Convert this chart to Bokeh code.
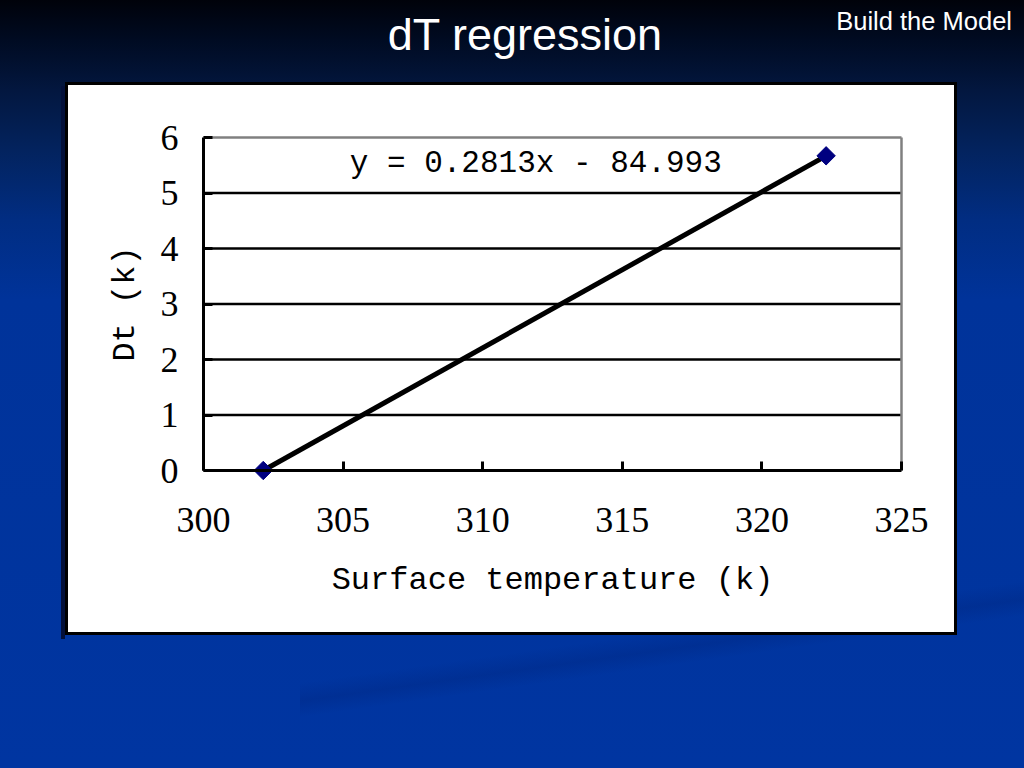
import math
from bokeh.plotting import figure
from bokeh.models import Range1d, FixedTicker, Label, Column, Div
from bokeh.embed import file_html
from bokeh.resources import INLINE

# ---- data ----
surface_temp = [302.14, 322.3]
dt_values = [0.0, 5.67]
x_ticks = [300, 305, 310, 315, 320, 325]
y_ticks = [0, 1, 2, 3, 4, 5, 6]
grid_ticks = [1, 2, 3, 4, 5]
equation = "y = 0.2813x - 84.993"
title_text = "dT regression"
corner_text = "Build the Model"
x_label = "Surface temperature (k)"
y_label = "Dt (k)"

W, H = 1024, 768
HEAD = 72
SERIF = "Liberation Serif"
MONO = "Liberation Mono"

# ---- page background (gradient, streak, white chart box) ----
background = ", ".join([
    "linear-gradient(#ffffff, #ffffff) 68px 85px / 886px 547px no-repeat",
    "linear-gradient(#000000, #000000) 65px 82px / 892px 553px no-repeat",
    "linear-gradient(#03103a, #03103a) 61px 86px / 4px 553px no-repeat",
    "linear-gradient(172deg, rgba(0,0,0,0) 78.5%, rgba(0,25,100,0.2) 80.6%, "
    "rgba(0,0,0,0) 82.5%) 300px 0px / 724px 768px no-repeat",
    "linear-gradient(to bottom, #00020a 0px, #000b22 40px, #03173f 90px, "
    "#03235e 150px, #012d82 220px, #00339a 300px, #0035a1 768px)",
])

# ---- header (title texts) ----
header_html = (
    '<div style="position:relative;width:1024px;height:72px;'
    "font-family:'Liberation Sans',Arial,sans-serif;color:#ffffff;\">"
    '<span style="position:absolute;left:25px;width:1000px;top:12px;'
    'text-align:center;font-size:45px;line-height:45px;white-space:nowrap;">'
    + title_text + '</span>'
    '<span style="position:absolute;right:12px;top:9px;font-size:25.5px;'
    'line-height:25.5px;white-space:nowrap;">' + corner_text + '</span></div>'
)
head = Div(text=header_html, width=W, height=HEAD, margin=(0, 0, 0, 0))

# ---- main chart ----
# the (white) frame is larger than the plot area so that the axes, their
# labels and the markers on the axes are never clipped
p = figure(width=W, height=H - HEAD, output_backend="svg", toolbar_location=None,
           x_range=Range1d(296.311, 326.397), y_range=Range1d(-2.4324, 6.6667),
           min_border_left=100, min_border_right=84,
           min_border_top=28, min_border_bottom=163)
p.border_fill_alpha = 0
p.background_fill_color = "white"
p.outline_line_color = None
p.grid.visible = False

p.xaxis.ticker = FixedTicker(ticks=x_ticks)
p.yaxis.ticker = FixedTicker(ticks=y_ticks)
p.xaxis.fixed_location = y_ticks[0]
p.yaxis.fixed_location = x_ticks[0]
p.xaxis.bounds = (x_ticks[0], x_ticks[-1])
p.yaxis.bounds = (y_ticks[0], y_ticks[-1])

# horizontal grid lines and the gray top / right borders of the plot area
p.segment(x0=x_ticks[0], x1=x_ticks[-1], y0=grid_ticks, y1=grid_ticks,
          line_color="black", line_width=2.5)
p.segment(x0=[x_ticks[0], x_ticks[-1]], y0=[y_ticks[-1], y_ticks[0]],
          x1=[x_ticks[-1], x_ticks[-1]], y1=[y_ticks[-1], y_ticks[-1]],
          line_color="#808080", line_width=2.5)

for ax in (p.xaxis, p.yaxis):
    ax.axis_line_color = "black"
    ax.axis_line_width = 3
    ax.major_tick_line_color = "black"
    ax.major_tick_line_width = 3
    ax.major_tick_in = 9
    ax.major_tick_out = 0
    ax.minor_tick_line_color = None
    ax.major_label_text_font = SERIF
    ax.major_label_text_font_size = "36px"
    ax.major_label_text_color = "black"
    ax.axis_label_text_font = MONO
    ax.axis_label_text_font_size = "32px"
    ax.axis_label_text_font_style = "normal"
    ax.axis_label_text_color = "black"

p.xaxis.axis_label = x_label
p.yaxis.axis_label = y_label
p.xaxis.major_label_standoff = 37
p.xaxis.axis_label_standoff = 27
p.yaxis.major_label_standoff = 25
p.yaxis.axis_label_standoff = 14

p.line(surface_temp, dt_values, line_color="black", line_width=5)
p.scatter(surface_temp, dt_values, marker="square", size=13, angle=math.pi / 4,
          fill_color="#000080", line_color="#000080")

p.add_layout(Label(x=311.9, y=5.53, text=equation, text_font=MONO,
                   text_font_size="31px", text_color="black",
                   text_align="center", text_baseline="middle"))

layout = Column(head, p, spacing=0, styles={"background": background})

open("out.html", "w").write(file_html(layout, INLINE))
